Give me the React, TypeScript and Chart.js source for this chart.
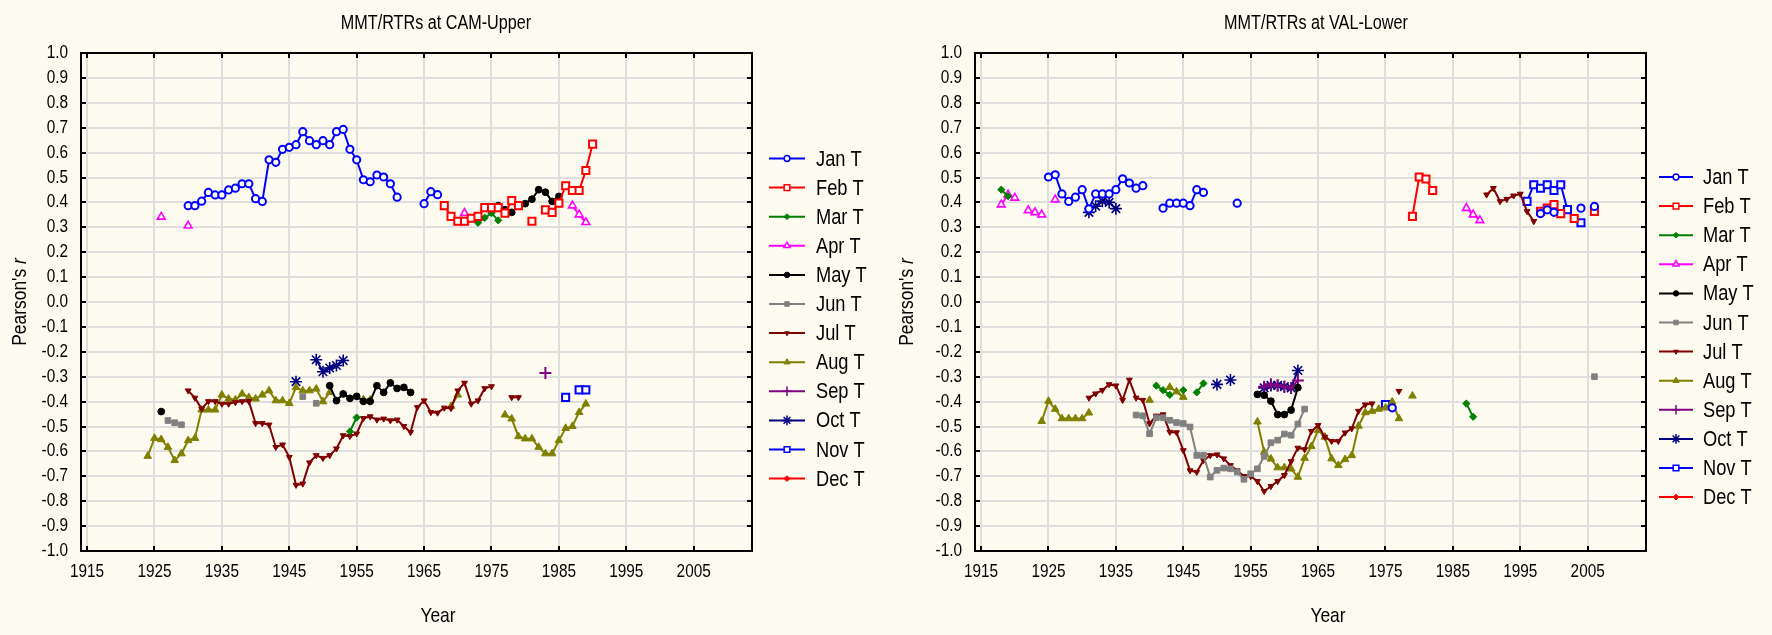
import React, { useEffect, useRef } from 'react';
import { Chart, registerables } from 'chart.js';
import { drawPoint } from 'chart.js/helpers';

Chart.register(...registerables);

// ---------- labels / ticks ----------
const MONTHS = ['Jan T', 'Feb T', 'Mar T', 'Apr T', 'May T', 'Jun T', 'Jul T', 'Aug T', 'Sep T', 'Oct T', 'Nov T', 'Dec T'];
const X_TICKS = [1915, 1925, 1935, 1945, 1955, 1965, 1975, 1985, 1995, 2005];
const Y_TICKS = [1.0, 0.9, 0.8, 0.7, 0.6, 0.5, 0.4, 0.3, 0.2, 0.1, 0.0, -0.1, -0.2, -0.3, -0.4, -0.5, -0.6, -0.7, -0.8, -0.9, -1.0];

// ---------- CAM-Upper series: [startYear, values] segments ----------
type Seg = [number, (number | null)[]];
const camJan: Seg[] = [
  [1930, [0.387, 0.387, 0.405, 0.44, 0.43, 0.43, 0.45, 0.457, 0.475, 0.475, 0.415, 0.404, 0.571, 0.561, 0.613, 0.621, 0.632, 0.684, 0.648, 0.632, 0.648, 0.632, 0.684, 0.693, 0.613, 0.571, 0.491, 0.483, 0.51, 0.502, 0.475, 0.421]],
  [1965, [0.395, 0.443, 0.431]],
];
const camFeb: Seg[] = [
  [1968, [0.387, 0.344, 0.324, 0.324, 0.336, 0.344, 0.379, 0.379, 0.379, 0.357, 0.407, 0.387]],
  [1981, [0.324]],
  [1983, [0.37, 0.36, 0.397, 0.467, 0.448, 0.448, 0.528, 0.634]],
];
const camMar: Seg[] = [[1954, [-0.52, -0.464]], [1973, [0.318, 0.338, 0.357, 0.328]]];
const camApr: Seg[] = [[1926, [0.342]], [1930, [0.306]], [1971, [0.357]], [1987, [0.387, 0.351, 0.32]]];
const camMay: Seg[] = [
  [1926, [-0.44]],
  [1951, [-0.336, -0.396, -0.369, -0.387, -0.379, -0.399, -0.399, -0.336, -0.363, -0.325, -0.347, -0.343, -0.363]],
  [1975, [0.371, 0.387, 0.371, 0.36, 0.385, 0.395, 0.413, 0.451, 0.441, 0.404, 0.424]],
];
const camJun: Seg[] = [[1927, [-0.476, -0.485, -0.493]], [1947, [-0.38]], [1949, [-0.407]]];
const camJul: Seg[] = [
  [1930, [-0.356, -0.385, -0.429, -0.399, -0.399, -0.409, -0.409, -0.403, -0.399, -0.399,
    -0.487, -0.487, -0.493, -0.583, -0.573, -0.623, -0.735, -0.73, -0.645, -0.616,
    -0.627, -0.616, -0.589, -0.536, -0.539, -0.529, -0.467, -0.46, -0.473, -0.469,
    -0.476, -0.473, -0.499, -0.523, -0.423, -0.396, -0.443, -0.445, -0.425, -0.427,
    -0.356, -0.325, -0.409, -0.396, -0.347, -0.339]],
  [1978, [-0.383, -0.383]],
];
const camAug: Seg[] = [
  [1924, [-0.619, -0.547, -0.552, -0.583, -0.636, -0.609, -0.556, -0.547, -0.433, -0.433,
    -0.433, -0.373, -0.389, -0.393, -0.369, -0.383, -0.389, -0.373, -0.356, -0.396,
    -0.396, -0.407, -0.343, -0.356, -0.356, -0.349, -0.4, -0.363]],
  [1956, [-0.392, -0.393]],
  [1969, [-0.419, -0.373]],
  [1977, [-0.453, -0.469, -0.54, -0.549, -0.549, -0.583, -0.609, -0.609, -0.556, -0.507, -0.499, -0.443, -0.409]],
];
const camSep: Seg[] = [[1983, [-0.285]]];
const camOct: Seg[] = [[1946, [-0.32]], [1949, [-0.232, -0.28, -0.265, -0.255, -0.235]]];
const camNov: Seg[] = [[1986, [-0.383]], [1988, [-0.353, -0.353]]];
const camDec: Seg[] = [];

// ---------- VAL-Lower series ----------
const valJan: Seg[] = [
  [1925, [0.502, 0.511, 0.434, 0.404, 0.421, 0.451, 0.374, 0.434, 0.434, 0.434, 0.451, 0.495, 0.478, 0.457, 0.467]],
  [1942, [0.377, 0.397, 0.397, 0.397, 0.387, 0.451, 0.44]],
  [1953, [0.397]],
  [1976, [-0.425]],
  [1998, [0.355, 0.37, 0.36]],
  [2004, [0.377]],
  [2006, [0.384]],
];
const valFeb: Seg[] = [[1979, [0.344, 0.502, 0.494, 0.448]], [1998, [0.364, 0.377, 0.391, 0.355]], [2003, [0.335]], [2006, [0.364]]];
const valMar: Seg[] = [[1918, [0.451, 0.425]], [1941, [-0.336, -0.354, -0.373]], [1945, [-0.354]], [1947, [-0.363, -0.327]], [1987, [-0.408, -0.461]]];
const valApr: Seg[] = [[1918, [0.391, 0.431, 0.418]], [1922, [0.368, 0.36, 0.351]], [1926, [0.411]], [1987, [0.377, 0.351, 0.328]]];
const valMay: Seg[] = [[1956, [-0.371, -0.374, -0.398, -0.452, -0.452, -0.434, -0.344]]];
const valJun: Seg[] = [
  [1938, [-0.454, -0.457, -0.529, -0.465, -0.465, -0.475, -0.484, -0.488, -0.502, -0.616,
    -0.616, -0.703, -0.676, -0.667, -0.67, -0.683, -0.712, -0.69, -0.67, -0.62,
    -0.565, -0.555, -0.53, -0.535, -0.49, -0.43]],
  [2006, [-0.3]],
];
const valJul: Seg[] = [
  [1931, [-0.385, -0.368, -0.354, -0.331, -0.336, -0.394, -0.313, -0.385, -0.394,
    -0.488, -0.457, -0.452, -0.522, -0.524, -0.596, -0.677, -0.683, -0.636, -0.616,
    -0.613, -0.629, -0.656, -0.677, -0.7, -0.7, -0.72, -0.76, -0.74, -0.72,
    -0.696, -0.64, -0.586, -0.592, -0.519, -0.495, -0.542, -0.559, -0.559, -0.525,
    -0.508, -0.438, -0.412, -0.408]],
  [1977, [-0.358]],
  [1990, [0.431, 0.457, 0.404, 0.413, 0.427, 0.434, 0.364, 0.324]],
];
const valAug: Seg[] = [
  [1924, [-0.479, -0.398, -0.43, -0.468, -0.468, -0.468, -0.468, -0.445]],
  [1940, [-0.394]],
  [1943, [-0.342, -0.36, -0.382]],
  [1956, [-0.481, -0.602, -0.63, -0.665, -0.665, -0.67, -0.703, -0.627, -0.58, -0.515,
    -0.542, -0.629, -0.656, -0.632, -0.616, -0.498, -0.444, -0.438, -0.43, -0.425,
    -0.401, -0.468]],
  [1979, [-0.377]],
];
const valSep: Seg[] = [[1957, [-0.34, -0.33, -0.335, -0.34, -0.345, -0.315]]];
const valOct: Seg[] = [[1931, [0.36, 0.385, 0.405, 0.4, 0.375]], [1950, [-0.331]], [1952, [-0.313]], [1957, [-0.345, -0.335, -0.335, -0.34, -0.345, -0.275]]];
const valNov: Seg[] = [[1975, [-0.412]], [1996, [0.404, 0.471, 0.457, 0.471, 0.448, 0.471, 0.371]], [2004, [0.318]]];
const valDec: Seg[] = [];

const CAM_SERIES = [camJan, camFeb, camMar, camApr, camMay, camJun, camJul, camAug, camSep, camOct, camNov, camDec];
const VAL_SERIES = [valJan, valFeb, valMar, valApr, valMay, valJun, valJul, valAug, valSep, valOct, valNov, valDec];

// ---------- styles ----------
const FONT = "'Liberation Sans', Arial, sans-serif";
const SX = 0.83; // horizontal condensing of all text
const BG = '#fdfaf0';
type St = { color: string; fill: string; ps: any; r: number; rot: number; bw: number };
const STYLES: St[] = [
  { color: '#0000ff', fill: '#ffffff', ps: 'circle', r: 3.6, rot: 0, bw: 2 },
  { color: '#ff0000', fill: '#ffffff', ps: 'rect', r: 5, rot: 0, bw: 2 },
  { color: '#008000', fill: '#008000', ps: 'rectRot', r: 3.6, rot: 0, bw: 1 },
  { color: '#ff00ff', fill: '#ffffff', ps: 'triangle', r: 4.5, rot: 0, bw: 1.6 },
  { color: '#000000', fill: '#000000', ps: 'circle', r: 3.4, rot: 0, bw: 1 },
  { color: '#808080', fill: '#808080', ps: 'rect', r: 4, rot: 0, bw: 1 },
  { color: '#800000', fill: '#800000', ps: 'triangle', r: 3.4, rot: 180, bw: 1 },
  { color: '#808000', fill: '#808000', ps: 'triangle', r: 4.4, rot: 0, bw: 1 },
  { color: '#800080', fill: '#800080', ps: 'cross', r: 6, rot: 0, bw: 2 },
  { color: '#000080', fill: '#000080', ps: 'star', r: 6, rot: 0, bw: 1.6 },
  { color: '#0000ff', fill: '#ffffff', ps: 'rect', r: 5, rot: 0, bw: 2 },
  { color: '#ff0000', fill: '#ff0000', ps: 'rectRot', r: 3.6, rot: 0, bw: 1 },
];

function toPoints(segs: Seg[]) {
  const out: { x: number; y: number | null }[] = [];
  segs.forEach((seg, i) => {
    const [from, vals] = seg;
    if (i > 0) out.push({ x: from - 0.5, y: null });
    vals.forEach((v, j) => out.push({ x: from + j, y: v }));
  });
  return out;
}

function txt(ctx: CanvasRenderingContext2D, s: string, x: number, y: number, size: number, align: CanvasTextAlign, italic = false) {
  ctx.save();
  ctx.font = `${italic ? 'italic ' : ''}${size}px ${FONT}`;
  ctx.textAlign = align;
  ctx.textBaseline = 'middle';
  ctx.translate(x, y);
  ctx.scale(SX, 1);
  ctx.fillText(s, 0, 0);
  ctx.restore();
}

type PanelCfg = {
  title: string;
  series: Seg[][];
  plotLeft: number;
  plotRight: number;
  titleX: number;
  yTitleX: number;
  xTitleX: number;
  legLine: [number, number];
  legText: number;
  legY0: number;
};

const W = 886;
const H = 635;
const PLOT_TOP = 53;
const PLOT_BOTTOM = 551;

function makeDecor(cfg: PanelCfg) {
  return {
    id: 'decor',
    afterDraw(chart: any) {
      const ctx: CanvasRenderingContext2D = chart.ctx;
      const { left, right, top, bottom } = chart.chartArea;
      const xs = chart.scales.x;
      const ys = chart.scales.y;
      ctx.save();
      // frame
      ctx.strokeStyle = '#000';
      ctx.lineWidth = 2;
      ctx.strokeRect(left, top, right - left, bottom - top);
      // inward tick marks
      const tl = 5;
      ctx.beginPath();
      X_TICKS.forEach((v) => {
        const px = Math.round(xs.getPixelForValue(v));
        ctx.moveTo(px, bottom);
        ctx.lineTo(px, bottom - tl);
        ctx.moveTo(px, top);
        ctx.lineTo(px, top + tl);
      });
      Y_TICKS.forEach((v) => {
        const py = Math.round(ys.getPixelForValue(v));
        ctx.moveTo(left, py);
        ctx.lineTo(left + tl, py);
        ctx.moveTo(right, py);
        ctx.lineTo(right - tl, py);
      });
      ctx.stroke();

      ctx.fillStyle = '#000';
      // tick labels
      X_TICKS.forEach((v) => txt(ctx, String(v), xs.getPixelForValue(v), 572, 18.5, 'center'));
      Y_TICKS.forEach((v) => txt(ctx, Math.abs(v) < 1e-9 ? '0.0' : v.toFixed(1), left - 13, ys.getPixelForValue(v), 18.5, 'right'));

      // title
      txt(ctx, cfg.title, cfg.titleX, 24, 19.5, 'center');
      // x title
      txt(ctx, 'Year', cfg.xTitleX, 616, 21, 'center');

      // y title with italic r
      ctx.save();
      ctx.translate(cfg.yTitleX, (top + bottom) / 2);
      ctx.rotate(-Math.PI / 2);
      ctx.scale(SX, 1);
      const a = "Pearson's ";
      const b = 'r';
      ctx.font = `21px ${FONT}`;
      const wa = ctx.measureText(a).width;
      ctx.font = `italic 21px ${FONT}`;
      const wb = ctx.measureText(b).width;
      const sx = -(wa + wb) / 2;
      ctx.textAlign = 'left';
      ctx.textBaseline = 'middle';
      ctx.font = `21px ${FONT}`;
      ctx.fillText(a, sx, 0);
      ctx.font = `italic 21px ${FONT}`;
      ctx.fillText(b, sx + wa, 0);
      ctx.restore();

      // legend
      MONTHS.forEach((m, i) => {
        const st = STYLES[i];
        const y = cfg.legY0 + i * 29.1;
        ctx.strokeStyle = st.color;
        ctx.lineWidth = 2;
        ctx.beginPath();
        ctx.moveTo(cfg.legLine[0], y);
        ctx.lineTo(cfg.legLine[1], y);
        ctx.stroke();
        ctx.fillStyle = st.fill;
        ctx.strokeStyle = st.color;
        ctx.lineWidth = Math.min(st.bw, 1.5);
        drawPoint(ctx, { pointStyle: st.ps, rotation: st.rot, radius: st.r * 0.8, borderWidth: Math.min(st.bw, 1.5) } as any,
          (cfg.legLine[0] + cfg.legLine[1]) / 2, y);
        ctx.fillStyle = '#000';
        txt(ctx, m, cfg.legText, y + 1, 22, 'left');
      });
      ctx.restore();
    },
  };
}

function Panel({ cfg }: { cfg: PanelCfg }) {
  const ref = useRef<HTMLCanvasElement | null>(null);
  useEffect(() => {
    if (!ref.current) return;
    const chart = new Chart(ref.current, {
      type: 'line',
      data: {
        datasets: cfg.series.map((segs, i) => {
          const st = STYLES[i];
          return {
            label: MONTHS[i],
            data: toPoints(segs) as any,
            borderColor: st.color,
            backgroundColor: st.fill,
            borderWidth: 2,
            pointStyle: st.ps,
            pointRadius: st.r,
            pointHoverRadius: st.r,
            pointRotation: st.rot,
            pointBorderWidth: st.bw,
            pointBackgroundColor: st.fill,
            pointBorderColor: st.color,
            tension: 0,
            spanGaps: false,
            fill: false,
          };
        }),
      },
      options: {
        animation: false,
        responsive: false,
        events: [],
        layout: { padding: { top: PLOT_TOP, right: W - cfg.plotRight, left: 0, bottom: 0 } },
        plugins: { legend: { display: false }, tooltip: { enabled: false }, title: { display: false } },
        scales: {
          x: {
            type: 'linear',
            min: 1914.1,
            max: 2013.65,
            afterBuildTicks: (ax: any) => {
              ax.ticks = X_TICKS.map((v) => ({ value: v }));
            },
            afterFit: (s: any) => {
              s.height = H - PLOT_BOTTOM;
            },
            ticks: { display: false, autoSkip: false },
            grid: { color: '#dedede', lineWidth: 2, drawTicks: false },
            border: { display: false },
          },
          y: {
            type: 'linear',
            min: -1,
            max: 1,
            afterBuildTicks: (ax: any) => {
              ax.ticks = Y_TICKS.map((v) => ({ value: v }));
            },
            afterFit: (s: any) => {
              s.width = cfg.plotLeft;
            },
            ticks: { display: false, autoSkip: false },
            grid: { color: '#dedede', lineWidth: 2, drawTicks: false },
            border: { display: false },
          },
        },
      },
      plugins: [makeDecor(cfg)],
    });
    return () => chart.destroy();
  }, [cfg]);
  return <canvas ref={ref} width={W} height={H} style={{ display: 'block', width: W, height: H }} />;
}

const LEFT: PanelCfg = {
  title: 'MMT/RTRs at CAM-Upper',
  series: CAM_SERIES,
  plotLeft: 81,
  plotRight: 752,
  titleX: 436,
  yTitleX: 20,
  xTitleX: 438,
  legLine: [769, 805],
  legText: 816,
  legY0: 158.5,
};

const RIGHT: PanelCfg = {
  title: 'MMT/RTRs at VAL-Lower',
  series: VAL_SERIES,
  plotLeft: 89,
  plotRight: 760,
  titleX: 430,
  yTitleX: 21,
  xTitleX: 442,
  legLine: [773, 807],
  legText: 817,
  legY0: 177,
};

export default function App() {
  return (
    <div style={{ position: 'absolute', left: 0, top: 0, width: 1772, height: 635, background: BG, display: 'flex' }}>
      <Panel cfg={LEFT} />
      <Panel cfg={RIGHT} />
    </div>
  );
}
